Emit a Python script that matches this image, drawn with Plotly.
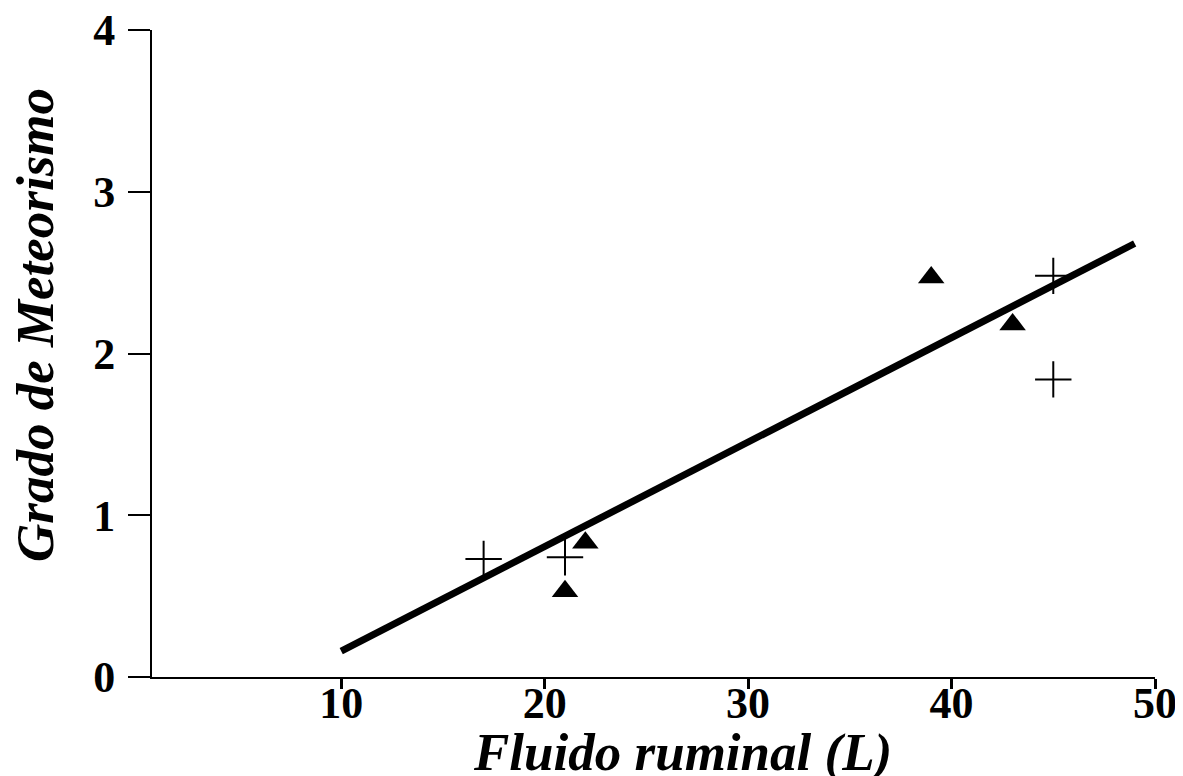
import plotly.graph_objects as go

# Data
plus_x = [17, 21, 45, 45]
plus_y = [0.73, 0.74, 2.48, 1.84]
tri_x = [21, 22, 39, 43]
tri_y = [0.53, 0.83, 2.47, 2.18]
fit_x = [10, 49]
fit_y = [0.16, 2.68]
x_ticks = [10, 20, 30, 40, 50]
y_ticks = [0, 1, 2, 3, 4]

FONT = "Liberation Serif"

fig = go.Figure()
fig.add_trace(go.Scatter(x=fit_x, y=fit_y, mode="lines",
                         line=dict(color="black", width=7), showlegend=False))
fig.add_trace(go.Scatter(x=plus_x, y=plus_y, mode="markers",
                         marker=dict(symbol="cross-thin", size=26, color="black",
                                     line=dict(color="black", width=2)),
                         showlegend=False))
fig.add_trace(go.Scatter(x=tri_x, y=tri_y, mode="markers",
                         marker=dict(symbol="triangle-up", size=23, color="black"),
                         showlegend=False))

# page body has an 8px margin; plot area in window px: x 152..1155, y 30..677
fig.update_layout(
    width=1175, height=768,
    margin=dict(l=144, r=28, t=22, b=99, autoexpand=False),
    paper_bgcolor="white", plot_bgcolor="white",
    xaxis=dict(range=[0.7, 50], tickvals=x_ticks, ticktext=[str(v) for v in x_ticks],
               showgrid=False, zeroline=False, showline=True, linecolor="black",
               linewidth=2, ticks="outside", ticklen=10, tickwidth=3, tickcolor="black",
               automargin=False, ticklabelstandoff=-24, ticklabeloverflow="allow",
               tickfont=dict(family=FONT, size=44, color="black", weight="bold")),
    yaxis=dict(range=[0, 4], tickvals=y_ticks, ticktext=[str(v) for v in y_ticks],
               showgrid=False, zeroline=False, showline=True, linecolor="black",
               linewidth=2, ticks="outside", ticklen=22, tickwidth=2, tickcolor="black",
               automargin=False, ticklabelstandoff=4, ticklabeloverflow="allow",
               tickfont=dict(family=FONT, size=44, color="black", weight="bold")),
    annotations=[
        dict(text="Fluido ruminal (L)", xref="paper", yref="paper",
             x=(682 - 152) / (1155 - 152), y=-(752 - 677) / 647,
             showarrow=False, xanchor="center", yanchor="middle",
             font=dict(family=FONT, size=53, color="black", weight="bold", style="italic")),
        dict(text="Grado de Meteorismo", xref="paper", yref="paper",
             x=-(152 - 35) / (1155 - 152), y=(677 - 325) / 647, textangle=-90,
             showarrow=False, xanchor="center", yanchor="middle",
             font=dict(family=FONT, size=53, color="black", weight="bold", style="italic")),
    ],
)

fig.write_html("out.html")
